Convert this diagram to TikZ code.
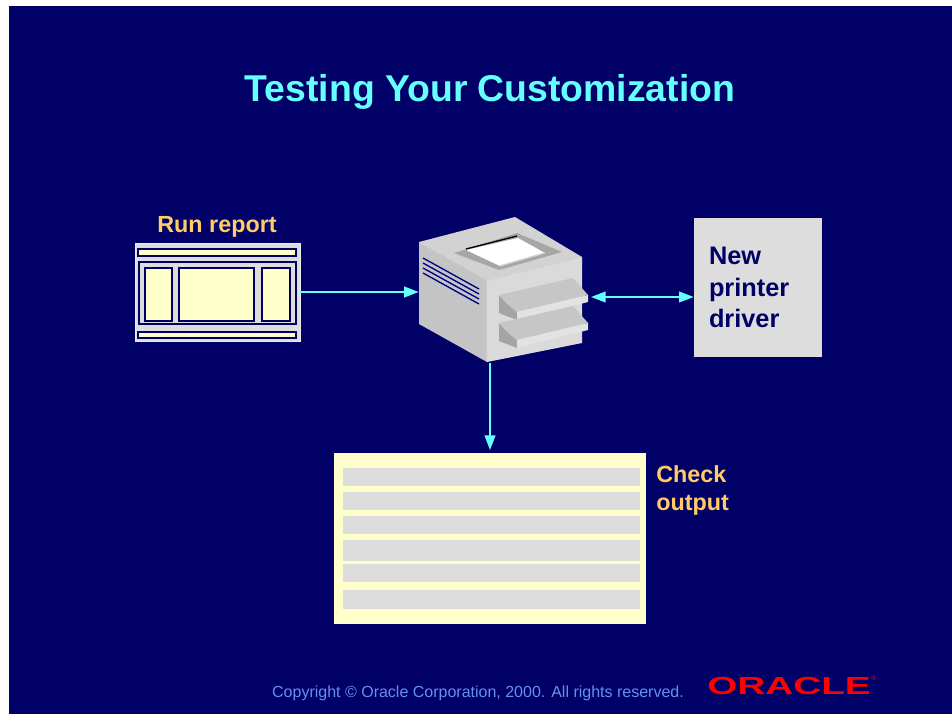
\documentclass[tikz,border=0pt]{standalone}
\usepackage{fontspec}
\setmainfont{Liberation Sans}
\usetikzlibrary{arrows.meta}
\definecolor{slide}{HTML}{000066}
\definecolor{titlecyan}{HTML}{66FFFF}
\definecolor{noteorange}{HTML}{FFCC66}
\definecolor{paper}{HTML}{FFFFCC}
\definecolor{panelgray}{HTML}{DDDDDD}
\definecolor{copyblue}{HTML}{6690F0}
\definecolor{oraclered}{HTML}{FF0000}
\definecolor{casetop}{HTML}{D2D2D2}
\definecolor{caseleft}{HTML}{C4C4C4}
\definecolor{caseright}{HTML}{DADADA}
\definecolor{traytop}{HTML}{C6C6C6}
\definecolor{trayfront}{HTML}{E2E2E2}
\definecolor{trayside}{HTML}{A4A4A4}
\tikzstyle{heading} = [font=\bfseries\fontsize{28}{32}\selectfont, text=titlecyan, inner sep=0pt]
\tikzstyle{note} = [font=\bfseries\fontsize{17.5}{21}\selectfont, text=noteorange, inner sep=0pt, align=left]
\tikzstyle{box} = [rectangle, inner sep=0pt, fill=panelgray]
\tikzstyle{frame} = [draw=slide, line width=1.5pt, fill=paper]
\tikzstyle{arrow} = [line width=1.5pt, draw=titlecyan, -{Triangle[length=11pt,width=8pt]}]
\tikzstyle{dblarrow} = [arrow, {Triangle[length=11pt,width=8pt]}-{Triangle[length=11pt,width=8pt]}]

\begin{document}
\begin{tikzpicture}[x=0.75pt, y=-0.75pt]
        \useasboundingbox (0,0) rectangle (952,714);
        \fill [white] (0,0) rectangle (952,714);
        \fill [slide] (9,6) rectangle (952,714);

        \node (title) [heading, anchor=base] at (490,101) {Testing Your Customization};

        % report window
        \node (runlabel) [note, anchor=base] at (217,232) {Run report};
        \node (report) [box, draw=white!85!gray, minimum width=123.75pt, minimum height=73.5pt] at (217.5,292) {};
        \draw [frame] (138,248.5) rectangle (296,255.5);
        \draw [frame] (138,331.5) rectangle (296,338);
        \draw [frame, fill=panelgray] (139,261.5) rectangle (296,324);
        \foreach \xa/\xb in {145/172, 179/254, 262/290}
                \draw [frame] (\xa,267.5) rectangle (\xb,320.5);

        % printer
        \node (printer) [inner sep=0pt, minimum width=127.5pt, minimum height=109.5pt] at (504,290) {};
        \fill [casetop] (419,242) -- (515,217) -- (582,257) -- (487,280) -- cycle;
        \fill [caseleft] (419,242) -- (487,280) -- (487,362) -- (419,324) -- cycle;
        \fill [caseright] (487,280) -- (582,257) -- (582,343) -- (487,362) -- cycle;
        \draw [white!70!gray, line width=0.4pt] (419,242) -- (487,280) -- (582,257) (487,280) -- (487,362);
        \fill [gray!70] (454,253) -- (517,233) -- (562,252) -- (499,270) -- cycle;
        \fill [white] (466,250) -- (518,238) -- (545,253) -- (500,266) -- cycle;
        \draw [gray!40, line width=1pt] (500,266) -- (545,253);
        \draw [black, line width=1pt] (466,249) -- (517,236);
        \foreach \y in {258,263,268,273}
                \draw [slide!80!blue, line width=1pt] (423,\y) -- (479,\y+31);
        \foreach \dy in {0,28} {
                \fill [trayside] (499,295+\dy) .. controls (506,303+\dy) .. (517,312+\dy) -- (517,320+\dy) .. controls (508,317+\dy) .. (499,313+\dy) -- cycle;
                \fill [traytop] (499,295+\dy) -- (573,278+\dy) -- (588,295+\dy) -- (517,312+\dy) .. controls (506,303+\dy) .. cycle;
                \fill [trayfront] (517,312+\dy) -- (588,295+\dy) -- (588,302+\dy) -- (517,320+\dy) -- cycle;
        }
        \coordinate (tray) at (591,297);

        % driver
        \node (driver) [box, minimum width=96pt, minimum height=104.25pt, text width=73.5pt, inner xsep=11.25pt, align=left,
                font=\bfseries\fontsize{19}{23.6}\selectfont, text=slide] at (758,287.5) {New\\printer\\driver\\[-1.5pt]};

        % printed output
        \node (output) [rectangle, inner sep=0pt, fill=paper, minimum width=234pt, minimum height=128.25pt] at (490,538.5) {};
        \foreach \ya/\yb in {468/486, 492/510, 516/534, 540/561, 564/582, 590/609}
                \fill [panelgray] (343,\ya) rectangle (640,\yb);
        \node (checklabel) [note, anchor=base west] at (656,510) {Check\\output};

        \draw [arrow] (report.east) -- (report.east -| printer.west);
        \draw [dblarrow] (tray) -- (tray -| driver.west);
        \draw [arrow, shorten >=2pt] (output.north |- printer.south) -- (output.north);

        \node (copy) [anchor=base, inner sep=0pt, text=copyblue, font=\fontsize{12}{14}\selectfont] at (478,697)
                {Copyright \textcopyright{} Oracle Corporation, 2000. All rights reserved.};
        \node (logo) [anchor=base, inner sep=0pt, text=oraclered, font=\bfseries\fontsize{18.5}{20}\selectfont] at (789,694)
                {\scalebox{1.57}[1]{ORACLE}};
        \node (reg) [inner sep=0pt, text=oraclered, font=\fontsize{5}{6}\selectfont] at (874,678) {\textregistered};
\end{tikzpicture}
\end{document}
